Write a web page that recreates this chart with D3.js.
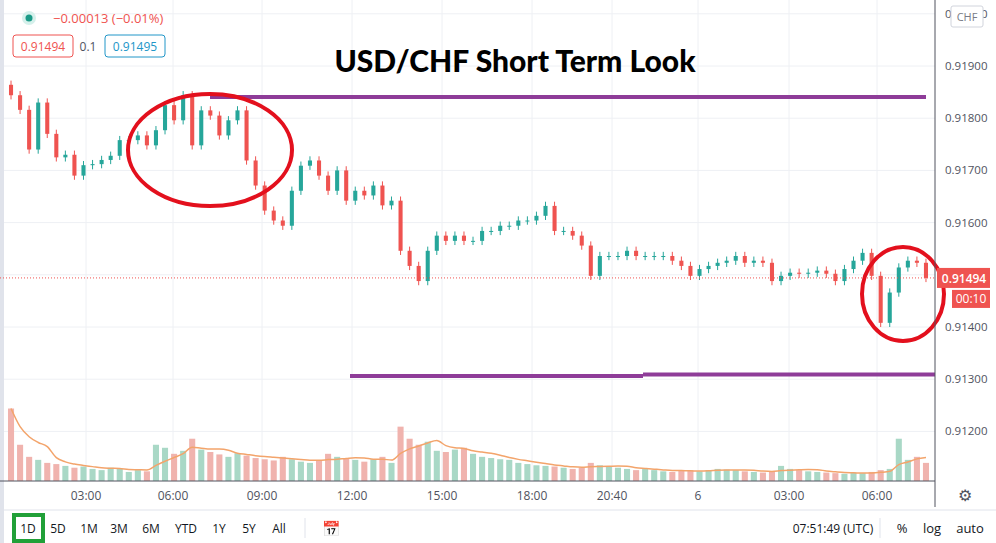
<!DOCTYPE html>
<html><head><meta charset="utf-8">
<script src="https://cdn.jsdelivr.net/npm/d3@7"></script>
<style>body{margin:0;background:#fff;font-family:"Open Sans",sans-serif}</style>
</head><body><div id="chart"></div>
<script>
// closes, one candle per slot
var closes = [0.91844,0.91816,0.91740,0.91830,0.91770,0.91725,0.91730,0.91690,0.91710,0.91712,0.91720,0.91728,
  0.91758,0.91758,0.91767,0.91748,0.91777,0.91825,0.91796,0.91844,0.91748,0.91815,0.91805,0.91767,0.91796,0.91815,
  0.91719,0.91671,0.91623,0.91604,0.91594,0.91661,0.91709,0.91719,0.91690,0.91661,0.91700,0.91642,0.91661,0.91652,
  0.91671,0.91633,0.91642,0.91546,0.91517,0.91488,0.91546,0.91575,0.91565,0.91575,0.91565,0.91565,0.91584,0.91584,
  0.91594,0.91594,0.91604,0.91604,0.91613,0.91632,0.91584,0.91584,0.91575,0.91556,0.91498,0.91536,0.91536,0.91536,
  0.91546,0.91536,0.91536,0.91536,0.91536,0.91527,0.91517,0.91498,0.91511,0.91517,0.91523,0.91527,0.91536,0.91523,
  0.91527,0.91523,0.91488,0.91498,0.91504,0.91502,0.91504,0.91508,0.91502,0.91488,0.91511,0.91527,0.91542,0.91498,
  0.91408,0.91466,0.91514,0.91527,0.91523,0.91494];
var volumes = [120,60,40,35,30,28,25,22,24,20,18,22,20,15,18,16,60,55,45,50,70,52,48,44,40,46,42,38,36,34,
  40,36,32,30,34,45,40,38,35,32,36,40,30,90,70,60,65,50,48,52,55,45,40,38,36,35,30,28,26,25,24,22,20,22,30,
  26,24,22,20,18,20,18,16,15,17,18,16,18,20,19,18,16,15,14,16,25,20,18,16,15,14,13,12,14,13,15,18,20,70,35,40,30];
var priceTicks = [0.91200,0.91300,0.91400,0.91600,0.91700,0.91800,0.91900];
var timeLabels = [["03:00",86],["06:00",173],["09:00",262],["12:00",352],["15:00",442],["18:00",532],["20:40",612],["6",698],["03:00",789],["06:00",877]];
var ranges = ["1D","5D","1M","3M","6M","YTD","1Y","5Y","All"];
var lastPrice = 0.91494;

var W = 996, H = 543, plotR = 935, axisB = 481;
var svg = d3.select("#chart").append("svg").attr("width", W).attr("height", H);

var y = d3.scaleLinear().domain([0.91400, 0.91900]).range([327, 66]);
var x = d3.scaleBand().domain(d3.range(closes.length)).range([4, plotR - 2]).padding(0.55);
var vy = d3.scaleLinear().domain([0, 250]).range([axisB, 330]);

// grid
svg.selectAll(".hg").data(priceTicks.concat([0.915, 0.92])).enter().append("line")
  .attr("x1", 0).attr("x2", plotR).attr("y1", d => y(d)).attr("y2", d => y(d))
  .attr("stroke", "#eef0f4");
svg.selectAll(".vg").data(timeLabels).enter().append("line")
  .attr("x1", d => d[1]).attr("x2", d => d[1]).attr("y1", 0).attr("y2", axisB)
  .attr("stroke", "#eef0f4");
svg.append("rect").attr("x", 0).attr("y", 0).attr("width", 4).attr("height", H).attr("fill", "#e0e3eb");

// volume
svg.selectAll(".vol").data(volumes).enter().append("rect")
  .attr("x", (d, i) => x(i) - 1).attr("width", x.bandwidth() + 2)
  .attr("y", d => vy(d)).attr("height", d => axisB - vy(d))
  .attr("fill", (d, i) => (i > 0 && closes[i] >= closes[i - 1]) ? "#a9d8c6" : "#f0b3ae");
var ma = volumes.map((d, i) => d3.mean(volumes.slice(Math.max(0, i - 4), i + 1)));
svg.append("path").datum(ma)
  .attr("d", d3.line().x((d, i) => x(i) + x.bandwidth() / 2).y(d => vy(d)).curve(d3.curveMonotoneX))
  .attr("fill", "none").attr("stroke", "#f3a46b").attr("stroke-width", 1.5);

// candles
var bars = closes.map((c, i) => ({o: i ? closes[i - 1] : c + 0.0002, c: c}));
var g = svg.selectAll(".cd").data(bars).enter().append("g");
var col = d => d.c >= d.o ? "#26a69a" : "#ef5350";
g.append("line")
  .attr("x1", (d, i) => x(i) + x.bandwidth() / 2).attr("x2", (d, i) => x(i) + x.bandwidth() / 2)
  .attr("y1", d => y(Math.max(d.o, d.c) + 0.00008)).attr("y2", d => y(Math.min(d.o, d.c) - 0.00008))
  .attr("stroke", col);
g.append("rect")
  .attr("x", (d, i) => x(i)).attr("width", x.bandwidth())
  .attr("y", d => y(Math.max(d.o, d.c))).attr("height", d => Math.max(1, Math.abs(y(d.o) - y(d.c))))
  .attr("fill", col);

// last price line
svg.append("line").attr("x1", 0).attr("x2", plotR).attr("y1", y(lastPrice)).attr("y2", y(lastPrice))
  .attr("stroke", "#ef5350").attr("stroke-dasharray", "1,2");

// annotations
svg.append("line").attr("x1", 210).attr("x2", 926).attr("y1", 97).attr("y2", 97)
  .attr("stroke", "#8e3c98").attr("stroke-width", 4);
svg.append("line").attr("x1", 350).attr("x2", 643).attr("y1", 376).attr("y2", 376)
  .attr("stroke", "#8e3c98").attr("stroke-width", 4);
svg.append("line").attr("x1", 643).attr("x2", 935).attr("y1", 374.5).attr("y2", 374.5)
  .attr("stroke", "#8e3c98").attr("stroke-width", 4);
svg.append("ellipse").attr("cx", 210).attr("cy", 150).attr("rx", 82).attr("ry", 56)
  .attr("fill", "none").attr("stroke", "#e3101d").attr("stroke-width", 4);
svg.append("ellipse").attr("cx", 903).attr("cy", 294).attr("rx", 41).attr("ry", 47)
  .attr("fill", "none").attr("stroke", "#e3101d").attr("stroke-width", 4);
svg.append("text").attr("x", 515).attr("y", 72).attr("text-anchor", "middle")
  .attr("font-family", "Lato").attr("font-weight", 900).attr("font-size", 30).attr("fill", "#000")
  .text("USD/CHF Short Term Look");

// axes
svg.append("line").attr("x1", plotR).attr("x2", plotR).attr("y1", 0).attr("y2", H - 36).attr("stroke", "#50535e");
svg.append("line").attr("x1", 0).attr("x2", plotR).attr("y1", axisB).attr("y2", axisB).attr("stroke", "#50535e");
svg.append("line").attr("x1", 0).attr("x2", W).attr("y1", 510).attr("y2", 510).attr("stroke", "#e0e3eb");
svg.selectAll(".pt").data(priceTicks).enter().append("text")
  .attr("x", 945).attr("y", d => y(d) + 4).attr("font-size", 11.5).attr("fill", "#50535e")
  .text(d => d3.format(".5f")(d));
svg.append("text").attr("x", 945).attr("y", 18).attr("font-size", 11.5).attr("fill", "#50535e").text("0.92000");
svg.append("rect").attr("x", 951).attr("y", 6).attr("width", 32).attr("height", 21).attr("rx", 2)
  .attr("fill", "#fff").attr("stroke", "#d1d4dc");
svg.append("text").attr("x", 967).attr("y", 21).attr("text-anchor", "middle").attr("font-size", 11)
  .attr("fill", "#787b86").text("CHF");
svg.append("rect").attr("x", 937).attr("y", y(lastPrice) - 10).attr("width", 53).attr("height", 20).attr("fill", "#ef5350");
svg.append("text").attr("x", 964).attr("y", y(lastPrice) + 5).attr("text-anchor", "middle")
  .attr("font-size", 12).attr("font-weight", 600).attr("fill", "#fff").text("0.91494");
svg.append("rect").attr("x", 952).attr("y", y(lastPrice) + 12).attr("width", 38).attr("height", 18).attr("fill", "#ef5350");
svg.append("text").attr("x", 971).attr("y", y(lastPrice) + 25).attr("text-anchor", "middle")
  .attr("font-size", 12).attr("fill", "#fff").text("00:10");
svg.selectAll(".tl").data(timeLabels).enter().append("text")
  .attr("x", d => d[1]).attr("y", 500).attr("text-anchor", "middle").attr("font-size", 12)
  .attr("fill", "#50535e").text(d => d[0]);
svg.append("text").attr("x", 965).attr("y", 501).attr("text-anchor", "middle").attr("font-size", 16)
  .attr("fill", "#50535e").text("⚙");

// legend top-left
svg.append("circle").attr("cx", 29).attr("cy", 18).attr("r", 7).attr("fill", "#d5f0eb");
svg.append("circle").attr("cx", 29).attr("cy", 18).attr("r", 3.5).attr("fill", "#1b9a87");
svg.append("text").attr("x", 53).attr("y", 23).attr("font-size", 13).attr("fill", "#ef5350").text("−0.00013 (−0.01%)");
svg.append("rect").attr("x", 13).attr("y", 35).attr("width", 60).attr("height", 22).attr("rx", 3)
  .attr("fill", "#fff").attr("stroke", "#ef5350");
svg.append("text").attr("x", 43).attr("y", 51).attr("text-anchor", "middle").attr("font-size", 12).attr("fill", "#ef5350").text("0.91494");
svg.append("text").attr("x", 88).attr("y", 51).attr("text-anchor", "middle").attr("font-size", 12).attr("fill", "#50535e").text("0.1");
svg.append("rect").attr("x", 105).attr("y", 35).attr("width", 60).attr("height", 22).attr("rx", 3)
  .attr("fill", "#fff").attr("stroke", "#2196c8");
svg.append("text").attr("x", 135).attr("y", 51).attr("text-anchor", "middle").attr("font-size", 12).attr("fill", "#2196c8").text("0.91495");

// bottom toolbar
var rx = [28, 58, 89, 119, 151, 186, 219, 249, 279];
svg.append("rect").attr("x", 14).attr("y", 515).attr("width", 29).attr("height", 26).attr("fill", "none")
  .attr("stroke", "#21a038").attr("stroke-width", 4);
svg.selectAll(".rg").data(ranges).enter().append("text")
  .attr("x", (d, i) => rx[i]).attr("y", 533).attr("text-anchor", "middle").attr("font-size", 12)
  .attr("fill", "#131722").text(d => d);
svg.append("line").attr("x1", 305).attr("x2", 305).attr("y1", 518).attr("y2", 538).attr("stroke", "#e0e3eb");
svg.append("text").attr("x", 331).attr("y", 534).attr("text-anchor", "middle").attr("font-size", 15).attr("fill", "#131722").text("📅");
svg.append("text").attr("x", 833).attr("y", 533).attr("text-anchor", "middle").attr("font-size", 12).attr("fill", "#131722").text("07:51:49 (UTC)");
svg.append("line").attr("x1", 880).attr("x2", 880).attr("y1", 518).attr("y2", 538).attr("stroke", "#e0e3eb");
svg.append("text").attr("x", 902).attr("y", 533).attr("text-anchor", "middle").attr("font-size", 13).attr("fill", "#131722").text("%");
svg.append("text").attr("x", 932).attr("y", 533).attr("text-anchor", "middle").attr("font-size", 13).attr("fill", "#131722").text("log");
svg.append("text").attr("x", 970).attr("y", 533).attr("text-anchor", "middle").attr("font-size", 13).attr("fill", "#131722").text("auto");
</script></body></html>
